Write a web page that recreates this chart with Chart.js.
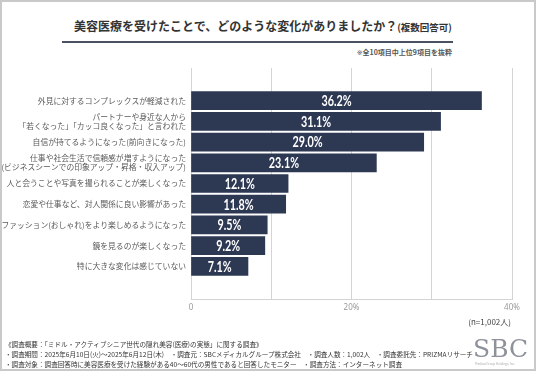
<!DOCTYPE html>
<html lang="ja">
<head>
<meta charset="utf-8">
<script src="https://cdn.jsdelivr.net/npm/chart.js@4.4.1/dist/chart.umd.min.js"></script>
<style>
  html, body { margin: 0; padding: 0; background: #fff; }
  body { width: 536px; height: 371px; position: relative; overflow: hidden;
         font-family: "Noto Sans CJK JP", "Noto Sans", sans-serif; }
  .frame { position: absolute; left: 0; top: 0; width: 532px; height: 367px; border: 2px solid #c9c9c9; }
  .t { position: absolute; white-space: nowrap; }
  #title { left: 74px; top: 17px; font-size: 12px; font-weight: bold; color: #333; }
  #title small { font-size: 9.5px; }
  #rule { position: absolute; left: 62px; top: 41px; width: 391px; height: 2px; background: #4a5261; }
  #note { right: 84px; top: 47px; font-size: 7px; font-weight: bold; color: #555; }
  #note .mark { font-family: "DejaVu Sans", sans-serif; font-weight: normal; }
  #n { right: 25px; top: 316px; font-size: 8px; color: #444; }
  .foot { left: 5px; font-size: 6.6px; color: #333; }
  #logo { left: 473px; top: 334px; font-family: "DejaVu Serif", serif; font-size: 25px; color: #8d929b; }
  #logosub { left: 475px; top: 362px; font-size: 3px; color: #aaa; }
  #wrap { position: absolute; left: 0; top: 0; width: 536px; height: 371px; }
</style>
</head>
<body>
<div class="frame"></div>
<div class="t" id="title">美容医療を受けたことで、どのような変化がありましたか？<small>(複数回答可)</small></div>
<div id="rule"></div>
<div class="t" id="note"><span class="mark">&#x203B;</span>全10項目中上位9項目を抜粋</div>
<div id="wrap"><canvas id="chart"></canvas></div>
<div class="t" id="n">(n=1,002人)</div>
<div class="t foot" style="top:339px">《調査概要：「ミドル・アクティブシニア世代の隠れ美容(医療)の実態」に関する調査》</div>
<div class="t foot" style="top:349px">・調査期間：2025年6月10日(火)～2025年6月12日(木)　・調査元：SBCメディカルグループ株式会社　・調査人数：1,002人　・調査委託先：PRIZMAリサーチ</div>
<div class="t foot" style="top:359px">・調査対象：調査回答時に美容医療を受けた経験がある40～60代の男性であると回答したモニター　・調査方法：インターネット調査</div>
<div class="t" id="logo">SBC</div>
<div class="t" id="logosub">Medical Group Holdings, Inc.</div>

<script>
// 項目（上から順）
const categories = [
  ["外見に対するコンプレックスが軽減された"],
  ["パートナーや身近な人から", "「若くなった」「カッコ良くなった」と言われた"],
  ["自信が持てるようになった(前向きになった)"],
  ["仕事や社会生活で信頼感が増すようになった", "(ビジネスシーンでの印象アップ・昇格・収入アップ)"],
  ["人と会うことや写真を撮られることが楽しくなった"],
  ["恋愛や仕事など、対人関係に良い影響があった"],
  ["ファッション(おしゃれ)をより楽しめるようになった"],
  ["鏡を見るのが楽しくなった"],
  ["特に大きな変化は感じていない"]
];
const values = [36.2, 31.1, 29.0, 23.1, 12.1, 11.8, 9.5, 9.2, 7.1];
const xTicks = [0, 10, 20, 30, 40];
const xTickLabels = ["0", "", "20%", "", "40%"];

const BAR_COLOR = "#2d3853";

// バーの中に白抜きの数値
const barLabels = {
  id: "barLabels",
  afterDatasetsDraw(chart) {
    const ctx = chart.ctx;
    const meta = chart.getDatasetMeta(0);
    ctx.save();
    ctx.fillStyle = "#fff";
    ctx.font = "bold 15px Lato, 'Noto Sans', sans-serif";
    ctx.textAlign = "center";
    ctx.textBaseline = "middle";
    meta.data.forEach((bar, i) => {
      const cx = (bar.base + bar.x) / 2;
      ctx.save();
      ctx.translate(cx, bar.y + 0.5);
      ctx.scale(0.72, 1);
      ctx.fillText(values[i].toFixed(1) + "%", 0, 0);
      ctx.restore();
    });
    ctx.restore();
  }
};

const ctx = document.getElementById("chart").getContext("2d");
new Chart(ctx, {
  type: "bar",
  data: {
    datasets: [{
      data: values.map((v, i) => ({ x: v, y: i })),
      backgroundColor: BAR_COLOR,
      barThickness: 18
    }]
  },
  options: {
    indexAxis: "y",
    responsive: true,
    maintainAspectRatio: false,
    animation: false,
    layout: { padding: { top: 68, right: 24, bottom: 52, left: 0 } },
    plugins: { legend: { display: false }, tooltip: { enabled: false } },
    scales: {
      x: {
        type: "linear",
        min: 0,
        max: 40,
        afterBuildTicks: (s) => { s.ticks = xTicks.map((v) => ({ value: v })); },
        afterFit: (s) => { s.height = 20; },
        grid: { color: "#d4d4d4", drawTicks: false },
        border: { color: "#d4d4d4" },
        ticks: {
          padding: 4,
          color: "#9a9a9a",
          font: { size: 8, family: "'Noto Sans', sans-serif" },
          callback: (v) => xTickLabels[xTicks.indexOf(v)]
        }
      },
      y: {
        type: "linear",
        reverse: true,
        min: -0.96,
        max: 8.96,
        afterBuildTicks: (s) => { s.ticks = categories.map((_, i) => ({ value: i })); },
        afterFit: (s) => { s.width = 191; },
        grid: { display: false, drawTicks: false },
        border: { display: false },
        ticks: {
          padding: 5,
          color: "#5a5a5a",
          autoSkip: false,
          font: { size: 7.8, family: "'Noto Sans CJK JP', sans-serif", lineHeight: 1.15 },
          callback: (v) => categories[v]
        }
      }
    }
  },
  plugins: [barLabels]
});
</script>
</body>
</html>
